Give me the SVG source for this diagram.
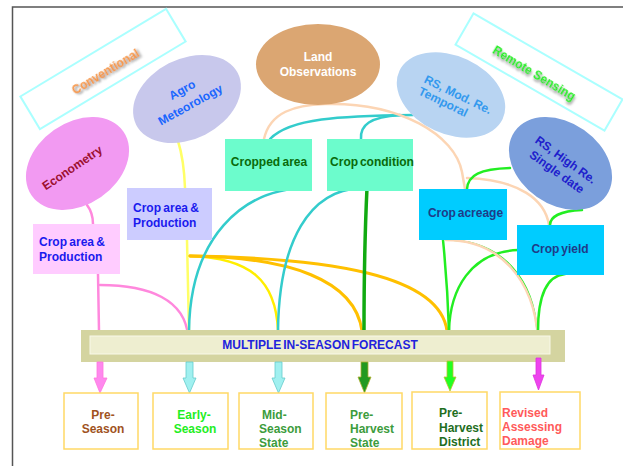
<svg xmlns="http://www.w3.org/2000/svg" width="623" height="466" viewBox="0 0 623 466">
<defs>
<filter id="sh" x="-20%" y="-50%" width="140%" height="200%"><feDropShadow dx="1.5" dy="2" stdDeviation="1.2" flood-color="#777" flood-opacity="0.8"/></filter>
</defs>
<style>
text{font-family:"Liberation Sans",Arial,sans-serif;font-weight:bold;font-size:12px}
.c{fill:none;stroke-linecap:round}
.bx{fill:#fff;stroke:#ffd966;stroke-width:1.5}
.lab{fill:none;stroke:#aaffff;stroke-width:2}
.mid{text-anchor:middle}
</style>
<rect width="623" height="466" fill="#fff"/>
<path d="M12.5,466 V7 H623" fill="none" stroke="#555" stroke-width="1.5"/>

<g id="conventional">
<rect x="-85" y="-19" width="170" height="38" class="lab" transform="translate(103,69) rotate(-31)"/>
<text class="mid" transform="translate(105,71) rotate(-31)" y="4.5" font-size="13" fill="#f79646" filter="url(#sh)">Conventional</text>
</g>
<g id="remote-sensing">
<rect x="-86" y="-18" width="172" height="36" class="lab" transform="translate(539,72) rotate(30)"/>
<text class="mid" transform="translate(534.5,72.5) rotate(31)" y="4.5" font-size="12.5" fill="#22ee22" filter="url(#sh)">Remote Sensing</text>
</g>

<g id="connectors">
<!-- pink -->
<path class="c" d="M87,205 Q93,213 93,224" stroke="#ff88dd" stroke-width="2.5"/>
<path class="c" d="M98,274 L99,331" stroke="#ff88dd" stroke-width="2.5"/>
<path class="c" d="M100,285 C150,285 185,300 188,336" stroke="#ff88dd" stroke-width="2.5"/>
<!-- yellow -->
<path class="c" d="M178,141 Q184,160 185,188" stroke="#ffff66" stroke-width="2.5"/>
<path class="c" d="M187,240 L189,331" stroke="#ffff66" stroke-width="2.5"/>
<path class="c" d="M190,256 C250,258 276,280 278,331" stroke="#ffee00" stroke-width="2.5"/>
<!-- orange -->
<path class="c" d="M190,256 C290,257 355,280 362,331" stroke="#ffc000" stroke-width="3"/>
<path class="c" d="M190,256 C330,258 440,275 447,331" stroke="#ffc000" stroke-width="3"/>
<!-- teal -->
<path class="c" d="M309,188 C240,188 190,240 189,331" stroke="#33cccc" stroke-width="2.5"/>
<path class="c" d="M361,188 C310,190 279,240 278,331" stroke="#33cccc" stroke-width="2.5"/>
<path class="c" d="M270,139 C290,118 340,116 413,115" stroke="#33cccc" stroke-width="2.5"/>
<path class="c" d="M361,139 C360,125 370,117 400,115" stroke="#33cccc" stroke-width="2.5"/>
<!-- dark green -->
<path class="c" d="M367,188 C365,230 364,280 364,331" stroke="#11aa11" stroke-width="3.5"/>
<!-- peach -->
<path class="c" d="M264,139 C270,112 295,105 325,104 C400,102 455,135 462,172 L465,189" stroke="#fcd5b4" stroke-width="2.5"/>
<path class="c" d="M467,178 C520,180 545,200 549,225" stroke="#fcd5b4" stroke-width="2.5"/>
<!-- green -->
<path class="c" d="M510,168 C480,169 468,175 467,189" stroke="#22ee22" stroke-width="2.5"/>
<path class="c" d="M582,210 C560,211 550,217 550,225" stroke="#22ee22" stroke-width="2.5"/>
<path class="c" d="M443,240 C446,270 448,300 449,331" stroke="#22ee22" stroke-width="2.5"/>
<path class="c" d="M518,250 C470,252 450,290 449,331" stroke="#22ee22" stroke-width="2.5"/>
<path class="c" d="M450,240 C505,242 534,282 537,331" stroke="#22ee22" stroke-width="1.5"/>
<path class="c" d="M446,240 C500,240 534,280 538,338" stroke="#fcd5b4" stroke-width="2.5"/>
<path class="c" d="M565,274 C545,276 538,300 538,331" stroke="#22ee22" stroke-width="2.5"/>
</g>

<g id="land-observations">
<ellipse cx="318" cy="64.5" rx="62" ry="40.5" fill="#dba672"/>
<text class="mid" x="318" y="61" font-size="12.5" fill="#fff">Land</text>
<text class="mid" x="318" y="76" font-size="12.5" fill="#fff">Observations</text>
</g>
<g id="agro-meteorology">
<ellipse cx="0" cy="0" rx="57" ry="40" fill="#c8c8ec" transform="translate(187,99) rotate(-27)"/>
<g transform="translate(186,97) rotate(-29)" fill="#1a66ff">
<text class="mid" y="-4" font-size="13">Agro</text>
<text class="mid" y="13" font-size="13">Meteorology</text>
</g>
</g>
<g id="econometry">
<ellipse cx="0" cy="0" rx="56" ry="41" fill="#f29af2" transform="translate(77.5,163.5) rotate(-35)"/>
<text class="mid" transform="translate(72,167.5) rotate(-34)" y="4.5" font-size="13.5" font-weight="normal" fill="#9c1030">Econometry</text>
</g>
<g id="rs-mod">
<ellipse cx="0" cy="0" rx="57" ry="39" fill="#b8d4f2" transform="translate(451,95) rotate(25)"/>
<g transform="translate(453,99) rotate(26)" fill="#3399ee" font-size="12.5">
<text x="-34" y="-2">RS, Mod. Re.</text>
<text x="-34" y="11">Temporal</text>
</g>
</g>
<g id="rs-high">
<ellipse cx="0" cy="0" rx="56" ry="41" fill="#7b9fdc" transform="translate(560.5,163.5) rotate(35)"/>
<g transform="translate(561.5,165.5) rotate(36)" fill="#2020cc" font-size="13">
<text class="mid" y="-3">RS, High Re.</text>
<text class="mid" y="12">Single date</text>
</g>
</g>

<g id="cropped-area">
<rect x="225" y="139" width="87" height="52" fill="#6cfccc"/>
<text class="mid" x="269" y="166" fill="#0a6a0a" word-spacing="-1">Cropped area</text>
</g>
<g id="crop-condition">
<rect x="327" y="139" width="86" height="52" fill="#6cfccc"/>
<text class="mid" x="372" y="166" fill="#0a6a0a" word-spacing="-1.5">Crop condition</text>
</g>
<g id="agro-crop-area">
<rect x="127" y="188" width="85" height="52" fill="#ccccff"/>
<text x="133" y="212" fill="#1a1aee" word-spacing="-1">Crop area &amp;</text>
<text x="133" y="227" fill="#1a1aee">Production</text>
</g>
<g id="econ-crop-area">
<rect x="33" y="224" width="87" height="50" fill="#ffccff"/>
<text x="39" y="246" fill="#1a1aee" word-spacing="-1">Crop area &amp;</text>
<text x="39" y="261" fill="#1a1aee">Production</text>
</g>
<g id="crop-acreage">
<rect x="419" y="189" width="88" height="51" fill="#00ccff"/>
<text class="mid" x="465.5" y="217" fill="#1f3c88" word-spacing="-1.5">Crop acreage</text>
</g>
<g id="crop-yield">
<rect x="517" y="225" width="87" height="50" fill="#00ccff"/>
<text class="mid" x="560" y="253" fill="#1f3c88" word-spacing="-1.5">Crop yield</text>
</g>

<g id="forecast">
<rect x="81" y="330" width="484" height="32" fill="#d4d4a0"/>
<rect x="90" y="336" width="460" height="18" fill="#eeeed0" stroke="#f8f8e8" stroke-width="1"/>
<text class="mid" x="320" y="348.5" fill="#2222dd" word-spacing="-1.5">MULTIPLE IN-SEASON FORECAST</text>
</g>

<g id="arrows">
<path d="M97,362 H103 V378 H107 L100,393 L94,378 H97 Z" fill="#ff88ee" stroke="#ff77dd" stroke-width="0.8"/>
<path d="M186,362 H193 V378 H196 L189.5,393 L183,378 H186 Z" fill="#a0f0f0" stroke="#66cccc" stroke-width="0.8"/>
<path d="M275,362 H282 V378 H285 L278.5,393 L272,378 H275 Z" fill="#a0f0f0" stroke="#66cccc" stroke-width="0.8"/>
<path d="M361,362 H368 V377 H371 L364.5,393 L358,377 H361 Z" fill="#229922" stroke="#b0b030" stroke-width="0.8"/>
<path d="M447,361 H453 V377 H456 L450,391 L444,377 H447 Z" fill="#22ff22" stroke="#c0c030" stroke-width="0.8"/>
<path d="M536,358 H541 V375 H544 L538.5,390 L533,375 H536 Z" fill="#ee44ee" stroke="#dd33dd" stroke-width="0.8"/>
</g>

<g id="pre-season">
<rect x="64" y="393" width="74" height="56" class="bx"/>
<text class="mid" x="103" y="419" fill="#a0521e">Pre-</text>
<text class="mid" x="103" y="433" fill="#a0521e">Season</text>
</g>
<g id="early-season">
<rect x="153" y="393" width="75" height="56" class="bx"/>
<text class="mid" x="194" y="419" fill="#22ee22">Early-</text>
<text class="mid" x="195" y="433" fill="#22ee22">Season</text>
</g>
<g id="mid-season">
<rect x="239" y="393" width="74" height="56" class="bx"/>
<text x="262" y="419" fill="#3c9c3c">Mid-</text>
<text x="259" y="433" fill="#3c9c3c">Season</text>
<text x="259" y="447" fill="#3c9c3c">State</text>
</g>
<g id="pre-harvest-state">
<rect x="326" y="393" width="76" height="56" class="bx"/>
<text x="350" y="419" fill="#3c9c3c">Pre-</text>
<text x="350" y="433" fill="#3c9c3c">Harvest</text>
<text x="350" y="447" fill="#3c9c3c">State</text>
</g>
<g id="pre-harvest-district">
<rect x="412" y="392" width="75" height="57" class="bx"/>
<text x="439" y="417" fill="#1e6e1e">Pre-</text>
<text x="439" y="432" fill="#1e6e1e">Harvest</text>
<text x="439" y="446" fill="#1e6e1e">District</text>
</g>
<g id="revised">
<rect x="500" y="392" width="80" height="57" class="bx"/>
<text x="502" y="417" fill="#ff5a5a">Revised</text>
<text x="502" y="431" fill="#ff5a5a">Assessing</text>
<text x="502" y="445" fill="#ff5a5a">Damage</text>
</g>
</svg>
